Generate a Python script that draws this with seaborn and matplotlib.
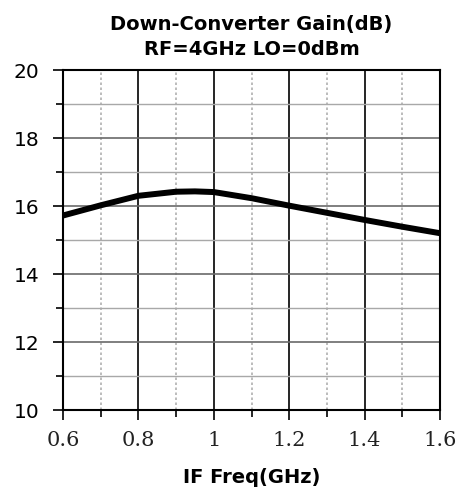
import pandas as pd
import numpy as np
import matplotlib.pyplot as plt
import seaborn as sns
from matplotlib.ticker import MultipleLocator

freq_ghz = [0.6, 0.7, 0.8, 0.9, 0.95, 1.0, 1.1, 1.2, 1.3, 1.4, 1.5, 1.6]
gain_db = [15.72, 16.02, 16.30, 16.42, 16.43, 16.41, 16.23, 16.01, 15.80, 15.59, 15.39, 15.20]

x_ticks = [0.6, 0.8, 1.0, 1.2, 1.4, 1.6]
x_tick_labels = ['0.6', '0.8', '1', '1.2', '1.4', '1.6']
y_ticks = [10, 12, 14, 16, 18, 20]

df = pd.DataFrame({'freq': freq_ghz, 'gain': gain_db})

sns.set_style('white')
plt.rcParams['font.family'] = ['DejaVu Sans']
plt.rcParams['text.color'] = 'black'
plt.rcParams['xtick.color'] = 'black'
plt.rcParams['ytick.color'] = 'black'

fig = plt.figure(figsize=(4.64, 4.93), dpi=100)
ax = fig.add_axes([63 / 464, 83 / 493, 377 / 464, 340 / 493])

# grid: solid black majors / dotted grey minors on x, grey solids on y
ax.xaxis.set_minor_locator(MultipleLocator(0.1))
ax.yaxis.set_minor_locator(MultipleLocator(1))
ax.grid(which='major', axis='x', color='black', linewidth=1.2, linestyle='-')
ax.grid(which='minor', axis='x', color='#b0b0b0', linewidth=1.2, linestyle=(0, (1.5, 1.5)))
ax.grid(which='major', axis='y', color='#6a6a6a', linewidth=1.2, linestyle='-')
ax.grid(which='minor', axis='y', color='#a8a8a8', linewidth=1.0, linestyle='-')
ax.set_axisbelow(True)

sns.lineplot(data=df, x='freq', y='gain', color='black', linewidth=4.3, ax=ax)

ax.set_xlim(0.6, 1.6)
ax.set_ylim(10, 20)
ax.set_xticks(x_ticks)
ax.set_xticklabels(x_tick_labels, family='DejaVu Serif', fontsize=15, color='#222222')
ax.set_yticks(y_ticks)
ax.set_yticklabels([str(v) for v in y_ticks], family='DejaVu Sans', fontsize=14.5, color='black')

ax.tick_params(which='both', direction='out', color='black', width=1.2)
ax.tick_params(which='major', length=7)
ax.tick_params(which='minor', length=5)
ax.tick_params(axis='y', which='major', pad=10)
ax.tick_params(axis='x', which='major', pad=8)
ax.tick_params(axis='y', which='both', left=True)
ax.tick_params(axis='x', which='both', bottom=True)

for side in ['left', 'right', 'top', 'bottom']:
    ax.spines[side].set_visible(True)
    ax.spines[side].set_color('black')
    ax.spines[side].set_linewidth(1.5)

ax.set_title('Down-Converter Gain(dB)\nRF=4GHz LO=0dBm', fontsize=14,
             fontweight='bold', linespacing=1.35, pad=11, color='black')
ax.set_xlabel('IF Freq(GHz)', fontsize=14, fontweight='bold', labelpad=13, color='black')
ax.set_ylabel('')

fig.savefig('out.png', dpi=100)
